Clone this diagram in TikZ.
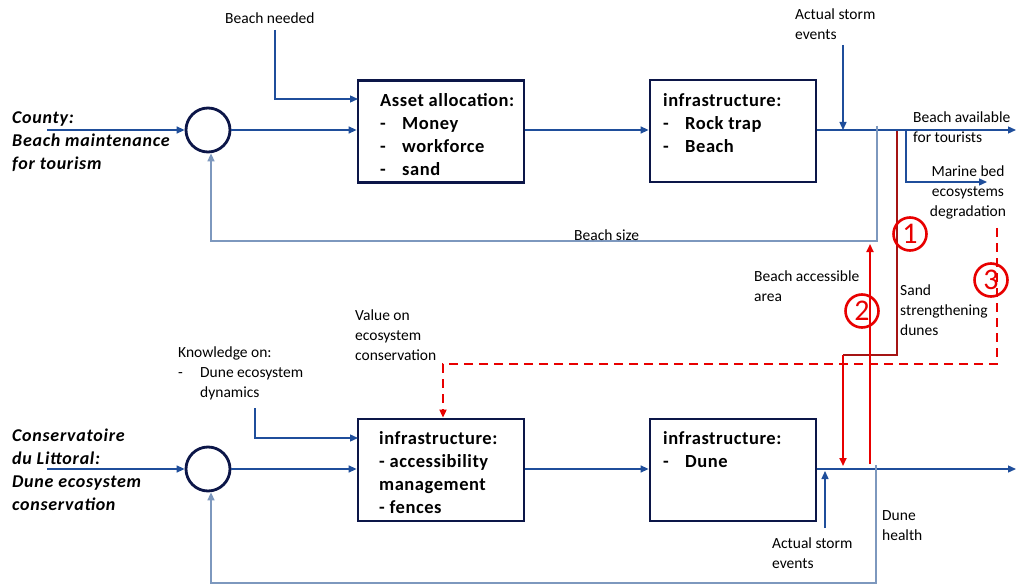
\documentclass[tikz,border=0pt]{standalone}
\usepackage{fontspec}
\setmainfont{Carlito}
\usetikzlibrary{arrows.meta}
\definecolor{flow}{RGB}{31,78,155}
\definecolor{navy}{RGB}{12,22,72}
\definecolor{fbc}{RGB}{125,152,190}
\definecolor{rd}{RGB}{232,0,0}
\definecolor{mr}{RGB}{165,20,20}
\begin{document}
\begin{tikzpicture}[x=1pt,y=-1pt,
  flowline/.style={draw=flow, line width=1.3pt},
  fbline/.style={draw=fbc, line width=1.6pt},
  tip/.style={-{Triangle[length=8pt,width=7pt]}},
  boxnode/.style={draw=navy, line width=2.8pt, minimum width=166pt, minimum height=102pt, inner sep=0pt},
  sumnode/.style={circle, draw=navy, line width=2.8pt, minimum size=44pt, inner sep=0pt},
  lbl/.style={font=\fontsize{15.5}{20}\selectfont, align=left, inner sep=0pt, anchor=north west},
  boxtxt/.style={font=\bfseries\fontsize{18.5}{23}\selectfont\addfontfeatures{LetterSpace=3}, align=left, anchor=north west, inner sep=0pt},
  actor/.style={font=\bfseries\itshape\fontsize{18}{23}\selectfont\addfontfeatures{LetterSpace=4}, align=left, anchor=north west, inner sep=0pt},
  numc/.style={circle, draw=rd, line width=2.6pt, minimum size=33pt, inner sep=0pt, text=rd, font=\fontsize{30}{30}\selectfont},
  redline/.style={draw=rd, line width=1.8pt}
]
\useasboundingbox (0,0) rectangle (1016,585);
\fill[white] (0,0) rectangle (1016,585);

% ---------- top row ----------
\node[sumnode] (s1) at (208,130) {};
\node[boxnode] (b1) at (441,131.5) {};
\node[boxnode] (b2) at (733,131) {};
\node[actor] (a1) at (12,111.5) {County:\\Beach maintenance\\for tourism};
\node[boxtxt] (t1) at (380,93.5) {Asset allocation:\\\makebox[22pt][l]{-}Money\\\makebox[22pt][l]{-}workforce\\\makebox[22pt][l]{-}sand};
\node[boxtxt] (t2) at (663,93.5) {infrastructure:\\\makebox[22pt][l]{-}Rock trap\\\makebox[22pt][l]{-}Beach};

\node[lbl] (bn) at (225,12.5) {Beach needed};
\node[lbl] (st1) at (795,8.5) {Actual storm\\events};
\node[lbl] (bav) at (913,111.5) {Beach available\\for tourists};
\node[lbl, align=center, anchor=north] (mbd) at (968,166) {Marine bed\\ecosystems\\degradation};

\coordinate (in1) at (47,130);
\coordinate (bnA) at (275,30);
\coordinate (bnB) at (358,99);
\coordinate (st1A) at (843,45);
\coordinate (st1B) at (843,130);
\coordinate (out1) at (1016,130);
\coordinate (br1) at (906,130);
\coordinate (mbE) at (987,182);
\coordinate (fbT) at (877,126);
\coordinate (fbC) at (877,241);

\draw[flowline,tip] (in1) -- (s1.west);
\draw[flowline,tip] (s1.east) -- (b1.west |- s1.east);
\draw[flowline,tip] (bnA) |- (bnB);
\draw[flowline,tip] (b1.east |- s1.east) -- (b2.west |- s1.east);
\draw[flowline,tip] (b2.east |- s1.east) -- (out1);
\draw[flowline,tip] (st1A) -- (st1B);
\draw[flowline,tip] (br1) |- (mbE);
\draw[fbline,tip] (fbT) -- (fbC) -| ([xshift=3pt]s1.south);
\node[font=\fontsize{15.5}{20}\selectfont, inner sep=0pt, anchor=base west] (bsz) at (574,240.5) {Beach size};

% ---------- bottom row ----------
\node[sumnode] (s2) at (208,469) {};
\node[boxnode] (b3) at (441,470) {};
\node[boxnode] (b4) at (733,470) {};
\node[actor] (a2) at (12,428.5) {Conservatoire\\du Littoral:\\Dune ecosystem\\conservation};
\node[boxtxt] (t3) at (379,431.5) {infrastructure:\\- accessibility\\management\\- fences};
\node[boxtxt] (t4) at (663,431.5) {infrastructure:\\\makebox[22pt][l]{-}Dune};

\node[lbl] (kn) at (178,346.5) {Knowledge on:\\\makebox[22pt][l]{-}Dune ecosystem\\\hspace*{22pt}dynamics};
\node[lbl] (von) at (355,309.5) {Value on\\ecosystem\\conservation};
\node[lbl] (st2) at (772,538) {Actual storm\\events};
\node[lbl] (dh) at (882,510.5) {Dune\\health};
\node[lbl] (baa) at (754,270.5) {Beach accessible\\area};
\node[lbl] (ssd) at (900,284.5) {Sand\\strengthening\\dunes};

\coordinate (in2) at (47,469);
\coordinate (kA) at (255,408);
\coordinate (kB) at (358,438);
\coordinate (out2) at (1016,469);
\coordinate (st2A) at (825,528);
\coordinate (st2B) at (825,471);
\coordinate (fbT2) at (876,465);
\coordinate (fbC2) at (876,583);

\draw[flowline,tip] (in2) -- (s2.west);
\draw[flowline,tip] (s2.east) -- (b3.west |- s2.east);
\draw[flowline,tip] (kA) |- (kB);
\draw[flowline,tip] (b3.east |- s2.east) -- (b4.west |- s2.east);
\draw[flowline,tip] (b4.east |- s2.east) -- (out2);
\draw[flowline,tip] (st2A) -- (st2B);
\draw[fbline,tip] (fbT2) -- (fbC2) -| ([xshift=3pt]s2.south);

% ---------- red links ----------
\coordinate (m1) at (897,131);
\coordinate (m2) at (897,355);
\coordinate (m3) at (843,355);
\coordinate (m4) at (843,466);
\coordinate (r2A) at (870,464);
\coordinate (r2B) at (870,244);
\coordinate (d1) at (997,228);
\coordinate (d2) at (443,364);

\draw[draw=mr, line width=2.2pt] (m1) -- (m2) -- (m3);
\draw[redline,tip] (m3) -- (m4);
\draw[redline,tip] (r2A) -- (r2B);
\draw[redline,dash pattern=on 9pt off 6pt,tip] (d1) |- (d2) -- (b3.north -| d2);

\node[numc] (c1) at (910,234) {1};
\node[numc] (c2) at (862,311) {2};
\node[numc] (c3) at (991,280) {3};
\end{tikzpicture}
\end{document}
